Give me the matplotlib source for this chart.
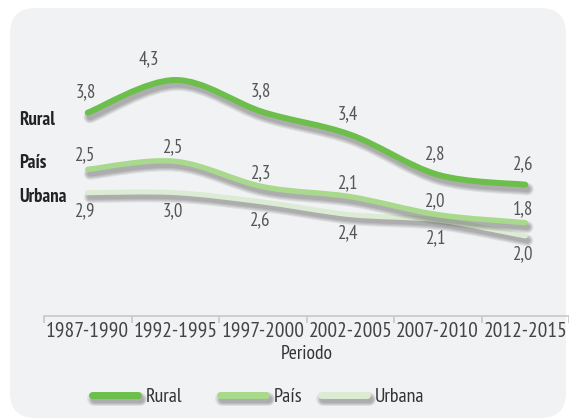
import numpy as np
import matplotlib
matplotlib.use("Agg")
import matplotlib.pyplot as plt
import matplotlib.patheffects as pe
from matplotlib.path import Path
from matplotlib.patches import PathPatch, FancyBboxPatch
from matplotlib.lines import Line2D

plt.rcParams['font.family'] = ['PT Sans Narrow', 'DejaVu Sans']

periodos = ['1987-1990', '1992-1995', '1997-2000', '2002-2005', '2007-2010', '2012-2015']
series = ['Rural', 'País', 'Urbana']

# valores rotulados
rural_val = [3.8, 4.3, 3.8, 3.4, 2.8, 2.6]
pais_val = [2.5, 2.5, 2.3, 2.1, 2.0, 1.8]
urbana_val = [2.9, 3.0, 2.6, 2.4, 2.1, 2.0]

# altura de las curvas tal como aparecen dibujadas
rural_nivel = [3.80, 4.29, 3.81, 3.47, 2.87, 2.72]
pais_nivel = [2.95, 3.07, 2.69, 2.54, 2.27, 2.15]
urbana_nivel = [2.60, 2.60, 2.46, 2.27, 2.19, 1.95]

colores = ['#6cbf4a', '#a9d98c', '#dcebd3']
bg = '#f1f2f4'


def smooth_path(xs, ys):
    # Catmull-Rom -> bezier cubico
    p = np.column_stack([xs, ys]).astype(float)
    ext = np.vstack([p[0], p, p[-1]])
    verts = [p[0]]
    codes = [Path.MOVETO]
    for i in range(len(p) - 1):
        p0, p1, p2, p3 = ext[i], ext[i + 1], ext[i + 2], ext[i + 3]
        c1 = p1 + (p2 - p0) / 6.0
        c2 = p2 - (p3 - p1) / 6.0
        verts += [c1, c2, p2]
        codes += [Path.CURVE4] * 3
    return Path(verts, codes)


def sombra(lw):
    efs = []
    for k in range(4):
        efs.append(pe.SimpleLineShadow(offset=(1.5, -3.2), shadow_color='black',
                                       alpha=0.08, linewidth=lw + 1.6 * k))
    efs.append(pe.Normal())
    return efs


W, H = 569, 420
fig = plt.figure(figsize=(W / 100, H / 100), dpi=100, facecolor='white')

panel = FancyBboxPatch((10 / W, 2 / H), 556 / W, 410 / H,
                       boxstyle='round,pad=0,rounding_size=0.045',
                       transform=fig.transFigure, facecolor=bg, edgecolor='none',
                       mutation_aspect=W / H, zorder=-10)
fig.patches.append(panel)

ax = fig.add_axes([44 / W, 1 - 316 / H, 525 / W, 300 / H])
ax.set_zorder(2)
ax.set_facecolor('none')
ax.set_xlim(-0.5, 5.5)
ax.set_ylim(0.75, 5.25)

x = np.arange(len(periodos))
niveles = [rural_nivel, pais_nivel, urbana_nivel]
valores = [rural_val, pais_val, urbana_val]
anchos = [4.3, 3.9, 3.6]
dy = [15, 10, -13]

for s in range(len(series)):
    path = smooth_path(x, niveles[s])
    patch = PathPatch(path, facecolor='none', edgecolor=colores[s], lw=anchos[s],
                      capstyle='round', joinstyle='round', zorder=3 - s * 0.1)
    patch.set_path_effects(sombra(anchos[s]))
    ax.add_patch(patch)
    for i in range(len(x)):
        dx = -19 if (s == 0 and i == 1) else -1.5
        ax.annotate(f'{valores[s][i]:.1f}'.replace('.', ','), (x[i], niveles[s][i]),
                    xytext=(dx, dy[s]), textcoords='offset points',
                    ha='center', va='center', fontsize=13.5, color='#555555', zorder=5)

for sp in ['left', 'right', 'top']:
    ax.spines[sp].set_visible(False)
ax.spines['bottom'].set_color('#c9c9c9')
ax.spines['bottom'].set_linewidth(1.2)
ax.set_yticks([])
ax.set_xticks(np.arange(-0.5, 5.6, 1.0))
ax.tick_params(axis='x', which='major', length=5, color='#c9c9c9', width=1.2,
               labelbottom=False)
ax.set_xticks(x, minor=True)
ax.set_xticklabels(periodos, minor=True)
ax.tick_params(axis='x', which='minor', length=0, pad=4, labelsize=15.5,
               labelcolor='#444444')
ax.set_xlabel('Periodo', fontsize=14, color='#333333', labelpad=3)

ypos = [120, 163, 197]
for s in range(len(series)):
    fig.text(19 / W, 1 - ypos[s] / H, series[s], fontsize=13.5, color='#222222',
             ha='left', va='center', fontweight='bold')

# una leyenda por serie para respetar el espaciado irregular
leg_x = [92, 220, 321]
for s in range(len(series)):
    h = Line2D([], [], color=colores[s], lw=5, solid_capstyle='round',
               path_effects=sombra(5))
    leg = fig.legend([h], [series[s]], loc='center left',
                     bbox_to_anchor=(leg_x[s] / W, 1 - 397 / H),
                     frameon=False, fontsize=14.5, handlelength=2.3,
                     handletextpad=0.35, borderpad=0, borderaxespad=0)
    leg.get_texts()[0].set_color('#333333')

fig.savefig('out.png', dpi=100, facecolor='white')
